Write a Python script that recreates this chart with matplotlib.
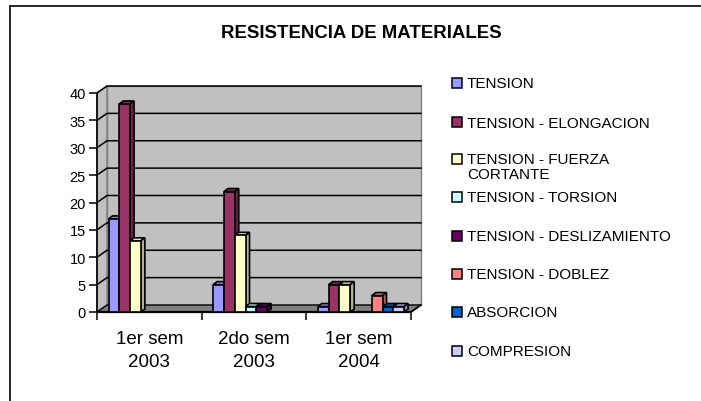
import matplotlib
matplotlib.use("Agg")
import matplotlib.pyplot as plt
from matplotlib.patches import Polygon, Rectangle
import matplotlib.colors as mcolors
import numpy as np

plt.rcParams['font.family'] = ['Liberation Sans', 'DejaVu Sans']

# ---------------- data ----------------
categories = ["1er sem\n2003", "2do sem\n2003", "1er sem\n2004"]
series_names = ["TENSION", "TENSION - ELONGACION", "TENSION - FUERZA\nCORTANTE",
                "TENSION - TORSION", "TENSION - DESLIZAMIENTO", "TENSION - DOBLEZ",
                "ABSORCION", "COMPRESION"]
tension = [17, 5, 1]
elongacion = [38, 22, 5]
fuerza_cortante = [13, 14, 5]
torsion = [0, 1, 0]
deslizamiento = [0, 1, 0]
doblez = [0, 0, 3]
absorcion = [0, 0, 1]
compresion = [0, 0, 1]
series_values = [tension, elongacion, fuerza_cortante, torsion,
                 deslizamiento, doblez, absorcion, compresion]
colors = ["#9999FF", "#993366", "#FFFFCC", "#CCFFFF",
          "#660066", "#FF8080", "#0066CC", "#CCCCFF"]
yticks = [0, 5, 10, 15, 20, 25, 30, 35, 40]

W, H = 701, 402
fig = plt.figure(figsize=(W / 100, H / 100), dpi=100)
fig.patch.set_facecolor("white")

# chart border (only left/top visible in reference)
fig.add_artist(plt.Line2D([9.5 / W, 9.5 / W], [0, 1 - 7 / H], color="black", lw=1.2,
                          transform=fig.transFigure))
fig.add_artist(plt.Line2D([9.5 / W, 1], [1 - 7 / H, 1 - 7 / H], color="black", lw=1.2,
                          transform=fig.transFigure))

# front plane of plot
x0, x1 = 97, 411
ytop, ybot = 94, 313
ax = fig.add_axes([x0 / W, 1 - ybot / H, (x1 - x0) / W, (ybot - ytop) / H])
ax.set_zorder(10)
ax.set_xlim(0, 3)
ax.set_ylim(0, 40)
ax.patch.set_visible(False)
for s in ["top", "right", "bottom"]:
    ax.spines[s].set_visible(False)
ax.spines["left"].set_linewidth(1.2)
ax.spines["left"].set_zorder(10)

DX, DY = 10, 7  # depth offset in pixels


def disp(x, y, back=False):
    px, py = ax.transData.transform((x, y))
    if back:
        px += DX
        py += DY
    return (px, py)


# side wall
side = Polygon([disp(0, 0), disp(0, 40), disp(0, 40, True), disp(0, 0, True)],
               closed=True, transform=None, facecolor="#C0C0C0",
               edgecolor="#808080", lw=1, zorder=1)
fig.add_artist(side)
# back wall
back = Polygon([disp(0, 0, True), disp(0, 40, True), disp(3, 40, True), disp(3, 0, True)],
               closed=True, transform=None, facecolor="#C0C0C0",
               edgecolor="#808080", lw=1, zorder=1)
fig.add_artist(back)
# floor
floor = Polygon([disp(0, 0), disp(3, 0), disp(3, 0, True), disp(0, 0, True)],
                closed=True, transform=None, facecolor="#808080",
                edgecolor="black", lw=1, zorder=2)
fig.add_artist(floor)
# gridlines
for yv in yticks[1:]:
    a, b, c = disp(0, yv), disp(0, yv, True), disp(3, yv, True)
    fig.add_artist(plt.Line2D([a[0], b[0], c[0]], [a[1], b[1], c[1]], color="black",
                              lw=1.1, transform=None, zorder=3))
# front floor edge
a, b = disp(0, 0), disp(3, 0)
fig.add_artist(plt.Line2D([a[0], b[0]], [a[1], b[1]], color="black", lw=1.6,
                          transform=None, zorder=3))
a, b = disp(3, 0), disp(3, 0, True)
fig.add_artist(plt.Line2D([a[0], b[0]], [a[1], b[1]], color="black", lw=1.2,
                          transform=None, zorder=3))

# bars
bw = 0.103
start = 0.11
bdx, bdy = 4, 3
xcat = np.arange(len(categories))


def shade(c, f):
    r, g, b_ = mcolors.to_rgb(c)
    return (r * f, g * f, b_ * f)


for i, (vals, col) in enumerate(zip(series_values, colors)):
    xs = xcat + start + i * bw
    bars = ax.bar(xs, vals, width=bw, align="edge", color=col, edgecolor="black",
                  linewidth=1.2, zorder=20, clip_on=False)
    for bar, v in zip(bars, vals):
        if v == 0:
            bar.set_visible(False)
            continue
        xl, xr = bar.get_x(), bar.get_x() + bar.get_width()
        p1, p2 = ax.transData.transform((xl, v)), ax.transData.transform((xr, v))
        p0 = ax.transData.transform((xr, 0))
        top = Polygon([p1, p2, (p2[0] + bdx, p2[1] + bdy), (p1[0] + bdx, p1[1] + bdy)],
                      closed=True, transform=None, facecolor=shade(col, 0.9),
                      edgecolor="black", lw=1.2, zorder=5)
        sidep = Polygon([p0, p2, (p2[0] + bdx, p2[1] + bdy), (p0[0] + bdx, p0[1] + bdy)],
                        closed=True, transform=None, facecolor=shade(col, 0.7),
                        edgecolor="black", lw=1.2, zorder=5)
        fig.add_artist(top)
        fig.add_artist(sidep)

# axis ticks and labels
ax.set_yticks(yticks)
ax.set_yticklabels([str(t) for t in yticks], fontsize=10.5)
ax.tick_params(axis="y", length=6, width=1.1, pad=2, direction="out")
ax.set_xticks([0, 1, 2, 3])
ax.set_xticklabels([])
ax.tick_params(axis="x", which="major", length=6, width=1.1, direction="out")
ax.set_xticks(xcat + 0.5, minor=True)
ax.set_xticklabels(categories, minor=True, fontsize=13.5, linespacing=1.45)
ax.tick_params(axis="x", which="minor", length=0, pad=13)

# title
fig.text(361 / W, 1 - 33 / H, "RESISTENCIA DE MATERIALES", fontsize=13.4,
         fontweight="bold", ha="center", va="center")

# legend
leg_y = [84, 123, 160, 198, 237, 275, 313, 352]
for name, col, yy in zip(series_names, colors, leg_y):
    fig.add_artist(Rectangle((452 / W, 1 - (yy + 5) / H), 10 / W, 10 / H,
                             transform=fig.transFigure, facecolor=col,
                             edgecolor="black", lw=1.1))
    fig.text(467 / W, 1 - (yy - 6.5) / H, name, fontsize=11, ha="left", va="top",
             linespacing=1.05)

fig.savefig("out.png", dpi=100)
